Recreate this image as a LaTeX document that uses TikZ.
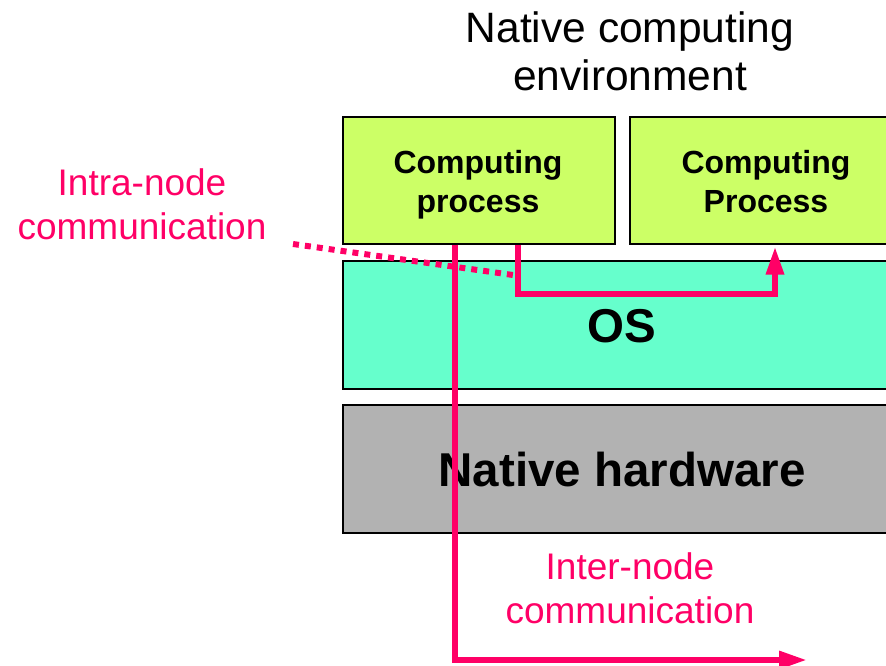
\documentclass[tikz,border=0pt]{standalone}
\usepackage{fontspec}
\setmainfont{Liberation Sans}
\usetikzlibrary{arrows.meta,calc}
\definecolor{procgreen}{RGB}{204,255,102}
\definecolor{osaqua}{RGB}{102,255,204}
\definecolor{hwgray}{RGB}{178,178,178}
\definecolor{commred}{RGB}{255,0,102}
\tikzset{
  layerbox/.style={draw=black, line width=1.5pt, anchor=north west, inner sep=0pt},
  proctext/.style={align=center, font=\bfseries\fontsize{32}{39}\selectfont},
  layertext/.style={font=\bfseries\fontsize{47.5}{50}\selectfont},
  commline/.style={draw=commred, line width=6pt},
  commtip/.style={-{Triangle[length=28pt,width=17pt]}},
  commlabel/.style={text=commred, align=center, font=\fontsize{37}{44}\selectfont},
}
\begin{document}
\begin{tikzpicture}[x=1pt,y=-1pt]
  \useasboundingbox (0,0) rectangle (886,665);
  \clip (0,0) rectangle (886,665);

  % title of the stack
  \node[align=center, font=\fontsize{42.5}{48}\selectfont] (title) at (630,51) {Native computing\\environment};

  % layers of the node
  \node[layerbox, fill=procgreen, minimum width=272pt, minimum height=127pt] (cp1) at (342,116) {};
  \node[proctext] (cp1text) at (478,185) {Computing\\process};
  \node[layerbox, fill=procgreen, minimum width=280pt, minimum height=127pt] (cp2) at (629,116) {};
  \node[proctext] (cp2text) at (766,182) {Computing\\Process};
  \node[layerbox, fill=osaqua, minimum width=560pt, minimum height=128pt] (os) at (342,260) {};
  \node[layertext] (ostext) at (622,326) {OS};
  \node[layerbox, fill=hwgray, minimum width=560pt, minimum height=128pt] (hw) at (342,404) {};
  \node[layertext] (hwtext) at (622,470) {Native hardware};

  % communication labels
  \node[commlabel] (intra) at (142,204) {Intra-node\\communication};
  \node[commlabel] (inter) at (630,588) {Inter-node\\communication};

  % inter-node path leaving the node through the hardware
  \coordinate (interStart) at ($(cp1.south west)+(113,0)$);
  \coordinate (interEnd) at (807,660);
  \draw[commline, commtip] (interStart) |- (interEnd);

  % intra-node path through the OS
  \coordinate (intraStart) at ($(cp1.south west)+(176,0)$);
  \coordinate (intraEnd) at ($(cp2.south west)+(146,2)$);
  \draw[commline, commtip] (intraStart) -- ++(0,49) -| (intraEnd);

  % dotted pointer from the intra-node label
  \coordinate (dotStart) at (293,244);
  \coordinate (dotEnd) at (513,275);
  \draw[commline, dash pattern=on 6pt off 6pt] (dotStart) -- (dotEnd);
\end{tikzpicture}
\end{document}
